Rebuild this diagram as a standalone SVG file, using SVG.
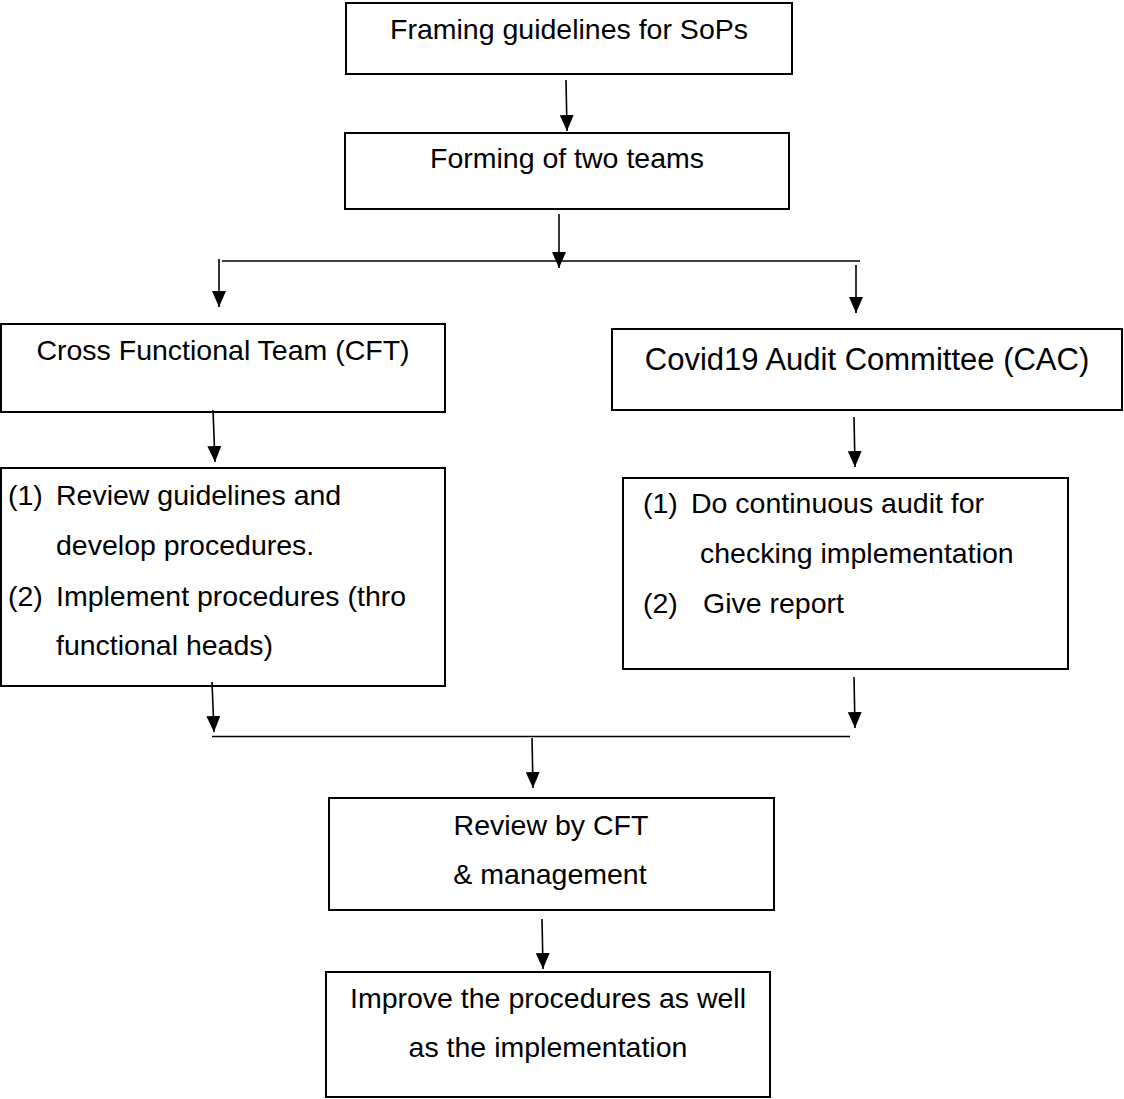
<svg xmlns="http://www.w3.org/2000/svg" width="1124" height="1099" viewBox="0 0 1124 1099">
<style>
.box{fill:#fff;stroke:#000;stroke-width:2}
.t{font-family:"Liberation Sans",Arial,sans-serif;font-size:28.5px;fill:#000}
.c{text-anchor:middle}
.big{font-size:31px}
.ln{stroke:#000;stroke-width:1.6;fill:none}
.ar{stroke:#000;stroke-width:1.6;fill:none;marker-end:url(#ah)}
</style>
<defs>
<marker id="ah" markerUnits="userSpaceOnUse" markerWidth="16" markerHeight="14" refX="16" refY="7" orient="auto" viewBox="0 0 16 14">
<path d="M0,0 L16,7 L0,14 z" fill="#000"/>
</marker>
</defs>
<rect width="1124" height="1099" fill="#fff"/>
<g id="n1">
<rect class="box" x="346" y="3" width="446" height="71"/>
<text class="t c" x="569" y="39">Framing guidelines for SoPs</text>
</g>
<g id="n2">
<rect class="box" x="345" y="133" width="444" height="76"/>
<text class="t c" x="567" y="168">Forming of two teams</text>
</g>
<g id="n3">
<rect class="box" x="1" y="324" width="444" height="88"/>
<text class="t c" x="223" y="360">Cross Functional Team (CFT)</text>
</g>
<g id="n4">
<rect class="box" x="612" y="329" width="510" height="81"/>
<text class="t c big" x="867" y="370">Covid19 Audit Committee (CAC)</text>
</g>
<g id="n5">
<rect class="box" x="1" y="468" width="444" height="218"/>
<text class="t" x="8" y="505">(1)</text><text class="t" x="56" y="505">Review guidelines and</text>
<text class="t" x="56" y="555">develop procedures.</text>
<text class="t" x="8" y="606">(2)</text><text class="t" x="56" y="606">Implement procedures (thro</text>
<text class="t" x="56" y="655">functional heads)</text>
</g>
<g id="n6">
<rect class="box" x="623" y="478" width="445" height="191"/>
<text class="t" x="643" y="513">(1)</text><text class="t" x="691" y="513">Do continuous audit for</text>
<text class="t" x="700" y="563">checking implementation</text>
<text class="t" x="643" y="613">(2)</text><text class="t" x="703" y="613">Give report</text>
</g>
<g id="n7">
<rect class="box" x="329" y="798" width="445" height="112"/>
<text class="t c" x="551" y="835">Review by CFT</text>
<text class="t c" x="550" y="884">&amp; management</text>
</g>
<g id="n8">
<rect class="box" x="326" y="972" width="444" height="125"/>
<text class="t c" x="548" y="1008">Improve the procedures as well</text>
<text class="t c" x="548" y="1057">as the implementation</text>
</g>
<g id="connectors">
<line class="ar" x1="566" y1="80" x2="567" y2="131"/>
<line class="ar" x1="559" y1="214" x2="559" y2="268"/>
<line class="ln" x1="222" y1="261" x2="860" y2="261"/>
<line class="ar" x1="219" y1="259" x2="219" y2="307"/>
<line class="ar" x1="856" y1="265" x2="856" y2="313"/>
<line class="ar" x1="213" y1="410" x2="215" y2="462"/>
<line class="ar" x1="854" y1="417" x2="855" y2="467"/>
<line class="ar" x1="212" y1="682" x2="214" y2="732"/>
<line class="ar" x1="854" y1="677" x2="855" y2="728"/>
<line class="ln" x1="212" y1="736.5" x2="850" y2="736.5"/>
<line class="ar" x1="532" y1="738" x2="533" y2="788"/>
<line class="ar" x1="542" y1="919" x2="543" y2="969"/>
</g>
</svg>
